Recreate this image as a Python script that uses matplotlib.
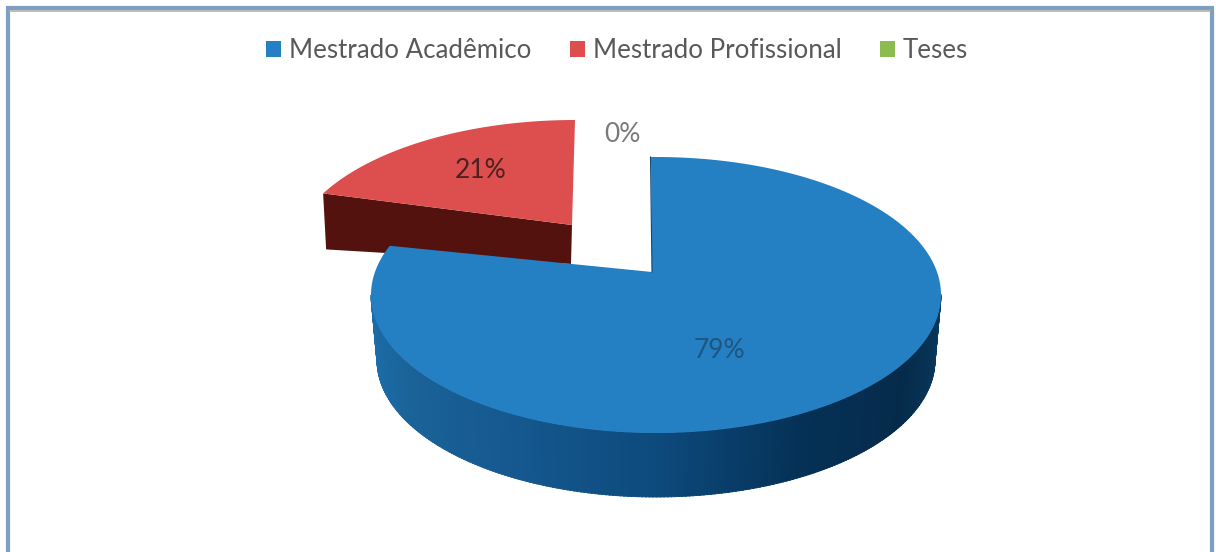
import numpy as np
import matplotlib
matplotlib.use("Agg")
import matplotlib.pyplot as plt
from matplotlib.patches import Patch
from matplotlib.colors import LinearSegmentedColormap

categories = ["Mestrado Acadêmico", "Mestrado Profissional", "Teses"]
values = [79, 21, 0]
labels = ["79%", "21%", "0%"]
colors = ["#2480c2", "#dd4e4e", "#8cbc4f"]

W, H = 1216, 552
fig = plt.figure(figsize=(W / 100, H / 100), dpi=100, facecolor="white")
ax = fig.add_axes([0, 0, 1, 1])
ax.set_xlim(0, W)
ax.set_ylim(H, 0)
ax.axis("off")
plt.rcParams["font.family"] = "Lato"

# chart frame (open at the bottom, as cropped in the reference)
ax.plot([7.5, 7.5, 1212, 1212], [552, 8, 8, 552], color="#7f9fc0", lw=3, solid_joinstyle="miter", zorder=1)
ax.plot([10, 1210], [10.5, 10.5], color="#b5aea8", lw=1.2, zorder=1)


def arc(cx, cy, rx, ry, t0, t1, n=240):
    t = np.radians(np.linspace(t0, t1, n))
    return cx + rx * np.cos(t), cy - ry * np.sin(t)


# angular sweep of each slice, from the values; perspective shifts the visible ends
sweep_blue = 360 * values[0] / sum(values)
sweep_red = 360 * values[1] / sum(values)
blue_start = 91.0
blue_end = blue_start - sweep_blue - 7.5
red_start = 90.0
red_end = red_start + sweep_red - 13.5

# red slice: side, then top
rx_r, ry_r = arc(575, 258, 285, 138, red_start, red_end)
ax.fill([572, rx_r[-1], rx_r[-1] + 3, 571], [225, ry_r[-1], ry_r[-1] + 56, 264],
        color="#54120f", lw=0, zorder=2)
ax.fill(np.r_[572, rx_r], np.r_[225, ry_r], color=colors[1], lw=0, zorder=3)

# blue slice: shaded rim, then top
cmap = LinearSegmentedColormap.from_list(
    "rim", ["#1c70ad", "#1a6399", "#15588f", "#0d4a7c", "#053157", "#062b4a", "#083a60"])
cx, cy, rx, ry = 656, 295, 285, 138
bx, by, brx, bry = 656, 360, 279, 137
ts = np.linspace(180, 360, 241)
for i, (a, b) in enumerate(zip(ts[:-1], ts[1:])):
    x0, y0 = arc(cx, cy, rx, ry, a, b + 0.3, 4)
    x1, y1 = arc(bx, by, brx, bry, a, b + 0.3, 4)
    c = cmap(i / 240)
    ax.fill(np.r_[x0, x1[::-1]], np.r_[y0, y1[::-1]], color=c, lw=0.6, zorder=4)
tx, ty = arc(cx, cy, rx, ry, blue_start, blue_end, 500)
ax.fill(np.r_[652, tx], np.r_[272, ty], color=colors[0], lw=0, zorder=5)
ax.plot([650.5, 652], [157, 272], color="#14466e", lw=0.8, zorder=5)

# data labels
label_pos = [(719, 350), (481, 171), (622, 134)]
label_cols = ["#20557f", "#4f2020", "#7a7a7a"]
for s, (x, y), c in zip(labels, label_pos, label_cols):
    ax.text(x, y, s, ha="center", va="center", fontsize=19, color=c, zorder=6)

handles = [Patch(facecolor=c, edgecolor="none") for c in colors]
ax.legend(handles, categories, ncols=3, loc="center", bbox_to_anchor=(617 / W, 1 - 51 / H),
          frameon=False, fontsize=18.6, labelcolor="#595959", handlelength=0.58, handleheight=0.58,
          handletextpad=0.3, columnspacing=1.5, borderpad=0, borderaxespad=0)

fig.savefig("out.png", dpi=100)
